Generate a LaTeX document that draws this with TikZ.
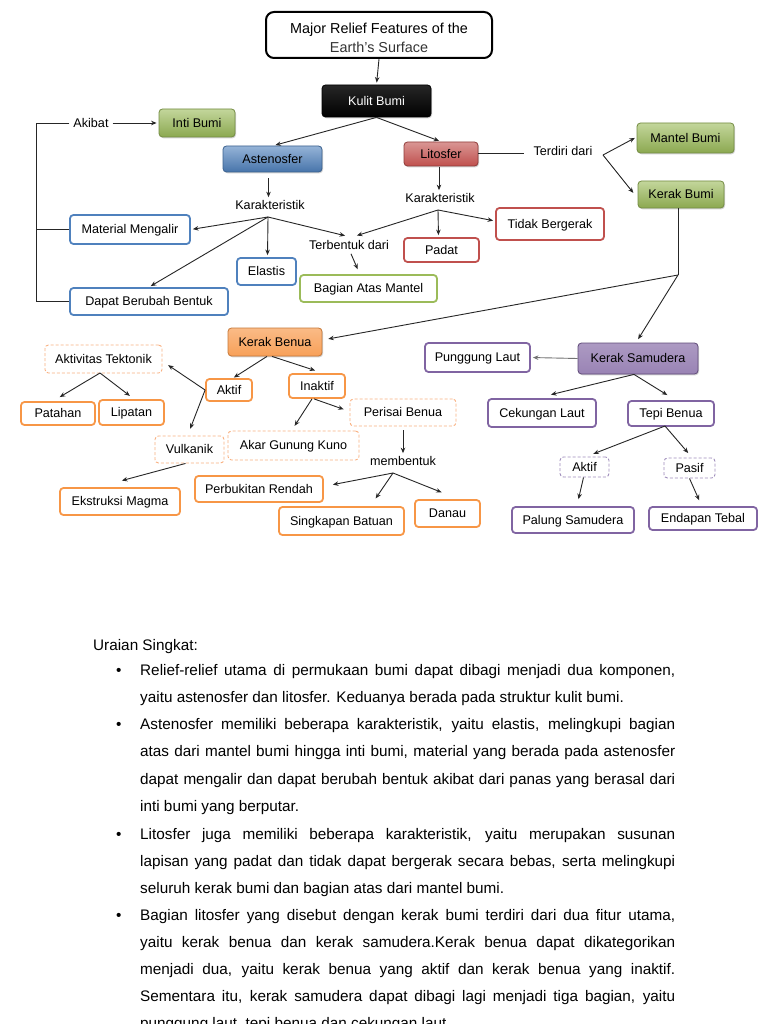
\documentclass[tikz,border=0pt]{standalone}
\usepackage{fontspec}
\setmainfont{Liberation Sans}
\usetikzlibrary{arrows.meta,shadows,calc}
\definecolor{bluec}{HTML}{4F81BD}
\definecolor{greenc}{HTML}{9BBB59}
\definecolor{redc}{HTML}{C0504D}
\definecolor{orangec}{HTML}{F79646}
\definecolor{purplec}{HTML}{8064A2}
\definecolor{orangel}{HTML}{F9B080}
\definecolor{purplel}{HTML}{9F8DBB}
\definecolor{linec}{HTML}{262626}
\newcommand\dfont{\fontsize{12.6}{14}\selectfont}
\newcommand\bfont{\fontsize{15.3}{18}\selectfont}
\tikzset{
  conn/.style={draw=linec, line width=0.9pt},
  arr/.style={conn, -{Stealth[length=5.5pt,width=4.5pt]}, shorten >=2pt},
  lbl/.style={font=\dfont, inner sep=1pt},
  boxtext/.style={font=\dfont, inner sep=0pt, text height=11.4pt, text depth=2.7pt},
  obox/.style={boxtext, draw, line width=1.8pt, rounded corners=3.5pt, fill=white},
  dbox/.style={boxtext, draw, dashed, dash pattern=on 3pt off 2pt, line width=0.9pt, rounded corners=3.5pt, fill=white},
  fbox/.style={boxtext, draw, line width=0.8pt, rounded corners=3.5pt,
     drop shadow={shadow xshift=1pt, shadow yshift=-1.3pt, opacity=0.35}},
  gfill/.style={fbox, draw=greenc!75!black, top color=greenc!60!white, middle color=greenc, bottom color=greenc!90!black},
  bfill/.style={fbox, draw=bluec!75!black, top color=bluec!60!white, middle color=bluec, bottom color=bluec!90!black},
  rfill/.style={fbox, draw=redc!75!black, top color=redc!60!white, middle color=redc!95!white, bottom color=redc},
  ofill/.style={fbox, draw=orangec!80!black, top color=orangec!65!white, middle color=orangec, bottom color=orangec!90!white},
  pfill/.style={fbox, draw=purplec!75!black, top color=purplec!65!white, middle color=purplec, bottom color=purplec!80!white},
  kfill/.style={fbox, draw=black, top color=black!85, middle color=black!60, bottom color=black, text=white},
  bline/.style={anchor=base west, font=\bfont, inner sep=0pt},
}
\begin{document}
\begin{tikzpicture}[x=1pt,y=-1pt]
\useasboundingbox (0,0) rectangle (768,1024);
\fill[white] (0,0) rectangle (768,1024);

% title and top level
\node[draw, line width=2pt, rounded corners=8pt, minimum width=226, minimum height=46, inner sep=0pt] (title) at (379,35) {};
\node[align=center, inner sep=0pt, font=\fontsize{14.4}{19.2}\selectfont] (titletext) at (379,37.6) {Major Relief Features of the\\{\color{black!80}Earth's Surface}};
\node[kfill, minimum width=109, minimum height=32] (kulit) at (376.5,101) {Kulit Bumi};
\node[bfill, minimum width=99, minimum height=26] (aste) at (272.5,159) {Astenosfer};
\node[rfill, minimum width=74, minimum height=24] (lito) at (441,154) {Litosfer};
\node[gfill, minimum width=76, minimum height=28] (inti) at (197,123) {Inti Bumi};
\node[gfill, minimum width=97, minimum height=30] (mantel) at (685.5,138) {Mantel Bumi};
\node[gfill, minimum width=86, minimum height=27] (kerak) at (681,194.5) {Kerak Bumi};

\node[lbl, inner sep=4pt] (akibat) at (91,123) {Akibat};
\node[lbl] (kar1) at (270,205) {Karakteristik};
\node[lbl] (terb) at (349,245) {Terbentuk dari};
\node[lbl] (kar2) at (440,198) {Karakteristik};
\node[lbl] (terdiri) at (563,151) {Terdiri dari};

\node[obox, draw=bluec, minimum width=120, minimum height=29] (mm) at (130,229.5) {Material Mengalir};
\node[obox, draw=bluec, minimum width=59, minimum height=27] (elastis) at (266.5,271.5) {Elastis};
\node[obox, draw=bluec, minimum width=158, minimum height=27] (dbb) at (149,301.5) {Dapat Berubah Bentuk};
\node[obox, draw=greenc, minimum width=137, minimum height=27] (bam) at (368.5,288.5) {Bagian Atas Mantel};
\node[obox, draw=redc, minimum width=75, minimum height=24] (padat) at (441.5,250) {Padat};
\node[obox, draw=redc, minimum width=108, minimum height=32] (tidak) at (550,224) {Tidak Bergerak};

% crust level
\node[ofill, minimum width=94, minimum height=28] (kbenua) at (275,342) {Kerak Benua};
\node[pfill, minimum width=120, minimum height=31] (ksam) at (638,358.5) {Kerak Samudera};

\node[obox, draw=orangec, minimum width=46, minimum height=22] (aktif1) at (229,390) {Aktif};
\node[obox, draw=orangec, minimum width=56, minimum height=24] (inaktif) at (317,386) {Inaktif};
\node[dbox, draw=orangel, minimum width=117, minimum height=28] (aktek) at (103.5,359) {Aktivitas Tektonik};
\node[obox, draw=orangec, minimum width=74, minimum height=23] (patahan) at (58,413.5) {Patahan};
\node[obox, draw=orangec, minimum width=65, minimum height=25] (lipatan) at (131.5,412.5) {Lipatan};
\node[dbox, draw=orangel, minimum width=69, minimum height=27] (vulk) at (189.5,449.5) {Vulkanik};
\node[obox, draw=orangec, minimum width=120, minimum height=27] (ekstr) at (120,501.5) {Ekstruksi Magma};
\node[dbox, draw=orangel, minimum width=131, minimum height=29] (akar) at (293.5,445.5) {Akar Gunung Kuno};
\node[dbox, draw=orangel, minimum width=106, minimum height=27] (perisai) at (403,412.5) {Perisai Benua};
\node[lbl] (memb) at (403,461) {membentuk};
\node[obox, draw=orangec, minimum width=128, minimum height=26] (perbuk) at (259,489) {Perbukitan Rendah};
\node[obox, draw=orangec, minimum width=125, minimum height=28] (singk) at (341.5,521) {Singkapan Batuan};
\node[obox, draw=orangec, minimum width=65, minimum height=27] (danau) at (447.5,513.5) {Danau};

\node[obox, draw=purplec, minimum width=105, minimum height=29] (pungg) at (477.5,357.5) {Punggung Laut};
\node[obox, draw=purplec, minimum width=108, minimum height=28] (cekung) at (542,413) {Cekungan Laut};
\node[obox, draw=purplec, minimum width=86, minimum height=25] (tepi) at (671,413.5) {Tepi Benua};
\node[dbox, draw=purplel, minimum width=49, minimum height=20] (aktif2) at (584.5,467) {Aktif};
\node[dbox, draw=purplel, minimum width=51, minimum height=20] (pasif) at (689.5,468) {Pasif};
\node[obox, draw=purplec, minimum width=122, minimum height=26] (palung) at (573,520) {Palung Samudera};
\node[obox, draw=purplec, minimum width=108, minimum height=23] (endap) at (703,518.5) {Endapan Tebal};

% connectors, top
\draw[arr] (title.south) -- (kulit.north);
\draw[arr] (kulit.south) -- ([xshift=1]aste.north);
\draw[arr] (kulit.south) -- (lito.north);
\coordinate (brk) at (36,123);
\draw[conn] (akibat.west) -- (brk) -- (brk|-dbb.west) -- (dbb.west);
\draw[conn] (mm.west) -- (brk|-mm.west);
\draw[arr] (akibat.east) -- (inti.west);

\draw[arr, shorten <=6pt] ([xshift=-4]aste.south) -- ([xshift=-4]aste.south|-kar1.north);
\coordinate (f1) at (268,217);
\draw[arr] (f1) -- (mm.east);
\draw[arr] (f1) -- ([xshift=1]elastis.north);
\draw[arr] (f1) -- (dbb.north);
\draw[arr] (f1) -- ([xshift=-2,yshift=3]terb.north);
\draw[arr] ($(terb.south)+(2,3)$) -- ($(bam.north)+(-10,-3)$);

\draw[arr, shorten <=1pt] ([xshift=-2]lito.south) -- ([xshift=-2]lito.south|-kar2.north);
\coordinate (f2) at (438,210);
\draw[arr] (f2) -- ([xshift=6,yshift=3]terb.north);
\draw[arr] (f2) -- ([xshift=-3]padat.north);
\draw[arr] (f2) -- ([yshift=3]tidak.west);

\draw[conn] ([yshift=1]lito.east) -- ([yshift=1,xshift=-8]lito.east-|terdiri.west);
\coordinate (f3) at (603,155);
\draw[arr] (f3) -- ([yshift=1]mantel.west);
\draw[arr] (f3) -- ([xshift=-3]kerak.west);

\coordinate (j) at (678,275);
\draw[conn] (j|-kerak.south) -- (j);
\draw[arr, shorten >=6pt] (j) -- ([yshift=2]kbenua.east);
\draw[arr, shorten >=4pt] (j) -- ([xshift=-2]ksam.north);

% continental crust
\draw[arr, shorten >=1pt] ([xshift=-8]kbenua.south) -- ([xshift=4]aktif1.north);
\draw[arr] ([xshift=-3]kbenua.south) -- ([yshift=2]inaktif.north);
\draw[arr] (aktif1.west) -- ([yshift=-5,xshift=4]aktek.east);
\draw[arr] (aktif1.west) -- ([yshift=5]vulk.north);
\coordinate (f5) at (100,373);
\draw[arr] (f5) -- ([yshift=3]patahan.north);
\draw[arr] (f5) -- ([yshift=2]lipatan.north);
\draw[arr] ([xshift=-4]vulk.south) -- ([yshift=6]ekstr.north);
\draw[arr] ([xshift=-5]inaktif.south) -- ([yshift=3]akar.north);
\draw[arr] ([xshift=-3]inaktif.south) -- ([xshift=-4,yshift=2.5]perisai.west);
\draw[arr, shorten <=4pt] (perisai.south) -- (perisai.south|-memb.north);
\coordinate (f4) at (393,473);
\draw[arr] (f4) -- ([xshift=7,yshift=4]perbuk.east);
\draw[arr] (f4) -- ([xshift=33,yshift=6]singk.north);
\draw[arr] (f4) -- ([xshift=-4,yshift=6]danau.north);

% oceanic crust
\draw[arr, draw=black!55] (ksam.west) -- (pungg.east);
\draw[arr] ([xshift=-4]ksam.south) -- ([xshift=7,yshift=3]cekung.north);
\draw[arr] ([xshift=-4]ksam.south) -- ([xshift=-2,yshift=4]tepi.north);
\coordinate (f6) at (665,426);
\draw[arr] (f6) -- ([xshift=7,yshift=2]aktif2.north);
\draw[arr] (f6) -- ([yshift=3]pasif.north);
\draw[arr] ([xshift=-1]aktif2.south) -- ([xshift=5,yshift=5]palung.north);
\draw[arr] (pasif.south) -- ([xshift=-3,yshift=4]endap.north);

% text
\node[anchor=base west, font=\bfont, inner sep=0pt] (ur) at (93,650) {Uraian Singkat:};
\foreach \yy in {675,729,839,920} {\node[bline] at (116,\yy) {\textbullet};}
\node[bline] (l1) at (140,675) {\makebox[535pt][s]{Relief-relief utama di permukaan bumi dapat dibagi menjadi dua komponen,}};
\node[bline] (l2) at (140,702) {yaitu astenosfer dan litosfer. Keduanya berada pada struktur kulit bumi.};
\node[bline] (l3) at (140,729) {\makebox[535pt][s]{Astenosfer memiliki beberapa karakteristik, yaitu elastis, melingkupi bagian}};
\node[bline] (l4) at (140,756) {\makebox[535pt][s]{atas dari mantel bumi hingga inti bumi, material yang berada pada astenosfer}};
\node[bline] (l5) at (140,784) {\makebox[535pt][s]{dapat mengalir dan dapat berubah bentuk akibat dari panas yang berasal dari}};
\node[bline] (l6) at (140,811) {inti bumi yang berputar.};
\node[bline] (l7) at (140,839) {\makebox[535pt][s]{Litosfer juga memiliki beberapa karakteristik, yaitu merupakan susunan}};
\node[bline] (l8) at (140,866) {\makebox[535pt][s]{lapisan yang padat dan tidak dapat bergerak secara bebas, serta melingkupi}};
\node[bline] (l9) at (140,893) {seluruh kerak bumi dan bagian atas dari mantel bumi.};
\node[bline] (l10) at (140,920) {\makebox[535pt][s]{Bagian litosfer yang disebut dengan kerak bumi terdiri dari dua fitur utama,}};
\node[bline] (l11) at (140,947) {\makebox[535pt][s]{yaitu kerak benua dan kerak samudera.Kerak benua dapat dikategorikan}};
\node[bline] (l12) at (140,974) {\makebox[535pt][s]{menjadi dua, yaitu kerak benua yang aktif dan kerak benua yang inaktif.}};
\node[bline] (l13) at (140,1001) {\makebox[535pt][s]{Sementara itu, kerak samudera dapat dibagi lagi menjadi tiga bagian, yaitu}};
\node[bline] (l14) at (140,1028) {punggung laut, tepi benua dan cekungan laut.};
\end{tikzpicture}
\end{document}
